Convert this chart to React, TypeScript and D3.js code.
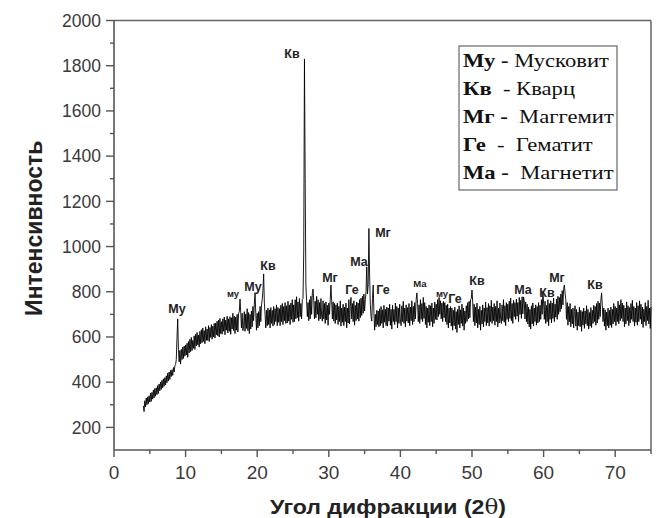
import React from 'react';
import * as d3 from 'd3';

// XRD pattern, 2θ from 4.1° to 75.0° in 0.1° steps (one row = one degree)
const ANGLE_START = 4.1;
const ANGLE_STEP = 0.1;
const intensity: number[] = [
    295, 270, 318, 290, 330, 300, 335, 305, 340, 312,
    352, 315, 355, 325, 365, 330, 372, 338, 375, 345,
    385, 350, 392, 362, 400, 368, 408, 375, 415, 382,
    420, 388, 428, 398, 440, 405, 445, 412, 452, 425,
    455, 430, 465, 445, 472, 478, 500, 600, 680, 545,
    490, 540, 480, 545, 500, 555, 505, 560, 515, 565,
    520, 572, 510, 580, 530, 590, 535, 598, 540, 585,
    550, 605, 545, 612, 560, 620, 565, 608, 555, 625,
    570, 632, 575, 640, 580, 628, 570, 645, 585, 635,
    585, 650, 580, 642, 598, 655, 590, 648, 600, 660,
    595, 662, 610, 670, 605, 675, 600, 682, 615, 668,
    612, 680, 625, 688, 610, 675, 630, 692, 618, 680,
    625, 690, 612, 685, 635, 705, 628, 692, 615, 688,
    630, 700, 622, 705, 712, 768, 710, 640, 705, 628,
    650, 712, 625, 702, 638, 725, 628, 708, 615, 700,
    635, 715, 645, 735, 672, 745, 796, 705, 630, 705,
    640, 712, 650, 735, 668, 742, 765, 805, 879, 750,
    700, 640, 718, 650, 728, 655, 720, 640, 730, 660,
    718, 648, 735, 655, 725, 668, 742, 650, 730, 665,
    725, 650, 740, 668, 748, 655, 735, 672, 752, 660,
    738, 662, 758, 670, 742, 655, 750, 678, 765, 665,
    742, 668, 765, 680, 778, 685, 755, 670, 770, 690,
    748, 680, 765, 770, 980, 1830, 1300, 830, 760, 690,
    752, 672, 765, 680, 780, 700, 795, 812, 760, 680,
    758, 685, 780, 700, 765, 672, 752, 680, 770, 692,
    670, 760, 680, 748, 660, 755, 675, 740, 652, 750,
    700, 765, 830, 760, 680, 755, 670, 748, 660, 742,
    675, 750, 655, 735, 668, 760, 648, 728, 665, 745,
    650, 732, 668, 750, 640, 728, 662, 765, 658, 735,
    775, 680, 748, 668, 760, 652, 740, 672, 755, 680,
    750, 670, 765, 685, 772, 695, 780, 705, 790, 715,
    765, 800, 910, 790, 830, 1080, 870, 745, 690, 670,
    770, 830, 710, 630, 700, 645, 718, 655, 715, 645,
    725, 650, 735, 660, 720, 640, 740, 665, 722, 650,
    732, 648, 728, 670, 745, 652, 722, 635, 740, 668,
    722, 655, 750, 668, 735, 640, 728, 660, 745, 675,
    650, 738, 668, 758, 660, 728, 645, 742, 670, 730,
    662, 748, 650, 732, 672, 760, 655, 735, 668, 752,
    680, 765, 795, 748, 668, 742, 660, 765, 678, 748,
    668, 775, 682, 752, 655, 735, 640, 728, 665, 742,
    650, 738, 668, 750, 645, 728, 660, 755, 678, 745,
    675, 765, 690, 775, 700, 760, 680, 750, 668, 758,
    685, 752, 668, 740, 655, 745, 640, 728, 662, 735,
    648, 728, 630, 718, 650, 732, 635, 712, 620, 722,
    655, 738, 640, 720, 660, 745, 648, 728, 630, 715,
    660, 738, 668, 752, 680, 758, 685, 765, 770, 808,
    755, 668, 745, 650, 732, 662, 750, 640, 722, 655,
    735, 630, 718, 658, 742, 645, 728, 668, 755, 650,
    730, 662, 748, 648, 738, 668, 762, 660, 732, 672,
    748, 652, 735, 668, 760, 645, 728, 662, 750, 678,
    660, 742, 672, 765, 665, 738, 650, 752, 678, 745,
    668, 758, 682, 772, 672, 748, 660, 762, 690, 752,
    678, 768, 692, 752, 668, 775, 700, 762, 682, 778,
    702, 777, 760, 680, 755, 668, 745, 658, 732, 645,
    722, 635, 738, 658, 750, 648, 728, 668, 742, 652,
    735, 662, 752, 668, 740, 678, 765, 700, 803, 750,
    678, 758, 660, 740, 668, 765, 650, 748, 678, 760,
    662, 750, 682, 772, 668, 745, 688, 768, 678, 780,
    700, 775, 712, 790, 725, 805, 742, 815, 830, 795,
    765, 678, 752, 652, 735, 668, 748, 645, 722, 658,
    728, 640, 712, 738, 648, 722, 630, 710, 650, 732,
    645, 718, 625, 712, 652, 728, 638, 715, 658, 738,
    650, 722, 635, 708, 648, 730, 642, 718, 660, 740,
    668, 735, 652, 748, 662, 758, 678, 750, 690, 765,
    795, 740, 668, 728, 648, 720, 630, 710, 650, 728,
    640, 718, 652, 732, 642, 722, 658, 748, 668, 735,
    650, 728, 668, 758, 658, 742, 672, 765, 682, 750,
    668, 740, 645, 728, 658, 755, 672, 738, 650, 730,
    662, 748, 678, 762, 668, 735, 648, 728, 665, 752,
    652, 738, 668, 760, 678, 745, 658, 732, 642, 722,
    668, 752, 650, 735, 672, 762, 658, 728, 638, 732,
];

// peak labels: text, label position (2θ, intensity), small = reduced font
const peakText = ['Кв', 'Му', 'му', 'Му', 'Кв', 'Мг', 'Ге', 'Ма', 'Мг', 'Ге', 'Ма', 'му', 'Ге', 'Кв', 'Ма', 'Кв', 'Мг', 'Кв'];
const peakAngle = [24.86, 8.8, 16.62, 19.41, 21.51, 30.17, 33.24, 34.22, 37.57, 37.57, 42.74, 45.81, 47.63, 50.7, 57.12, 60.47, 61.87, 67.18];
const peakLevel = [1856, 724, 790, 825, 918, 861, 812, 932, 1064, 808, 834, 790, 772, 852, 812, 795, 865, 834];
const peakSmall = [false, false, true, false, false, false, false, false, false, false, true, true, false, false, false, false, false, false];

const legendAbbr = ['Му -', 'Кв', 'Мг -', 'Ге', 'Ма -'];
const legendName = [' Мусковит', '  - Кварц', '  Маггемит', '  -  Гематит', '  Магнетит'];

const xMajor = [0, 10, 20, 30, 40, 50, 60, 70];
const xMinor = [5, 15, 25, 35, 45, 55, 65, 75];
const yMajor = [200, 400, 600, 800, 1000, 1200, 1400, 1600, 1800, 2000];
const yMinor = [300, 500, 700, 900, 1100, 1300, 1500, 1700, 1900];

const W = 657;
const H = 518;
const axisColor = '#555';
const textColor = '#3a3a3a';

export default function App() {
    const x = d3.scaleLinear().domain([0, 75]).range([114, 651]);
    const y = d3.scaleLinear().domain([100, 2000]).range([450, 20.5]);

    const pts: [number, number][] = intensity.map((v, i) => [ANGLE_START + i * ANGLE_STEP, v]);
    const line = d3.line<[number, number]>()
        .x(d => x(d[0]))
        .y(d => y(d[1]));

    const [x0, x1] = x.range();
    const [y0, y1] = y.range();

    return (
        <svg width={W} height={H} style={{position: 'absolute', left: 0, top: 0, background: '#fff'}}
             fontFamily="'Liberation Sans', Arial, sans-serif">
            {/* frame */}
            <line x1={x0} x2={x1} y1={y1} y2={y1} stroke="#666" strokeWidth={1.5}/>
            <line x1={x1} x2={x1} y1={y1} y2={y0} stroke="#666" strokeWidth={1.5}/>

            {/* data */}
            <path d={line(pts)!} fill="none" stroke="#000" strokeWidth={0.9} strokeLinejoin="round"/>

            {/* axes */}
            <line x1={x0} x2={x0} y1={y1} y2={y0} stroke={axisColor} strokeWidth={1.6}/>
            <line x1={x0} x2={x1} y1={y0} y2={y0} stroke={axisColor} strokeWidth={1.6}/>

            {yMajor.map(t => (
                <g key={'ym' + t}>
                    <line x1={x0 - 8} x2={x0} y1={y(t)} y2={y(t)} stroke={axisColor} strokeWidth={1.4}/>
                    <text x={x0 - 13} y={y(t)} dy="0.36em" textAnchor="end" fontSize={17.5} fill={textColor}>{t}</text>
                </g>
            ))}
            {yMinor.map(t => (
                <line key={'yn' + t} x1={x0 - 4} x2={x0} y1={y(t)} y2={y(t)} stroke={axisColor} strokeWidth={1.4}/>
            ))}
            {xMajor.map(t => (
                <g key={'xm' + t}>
                    <line x1={x(t)} x2={x(t)} y1={y0} y2={y0 + 7} stroke={axisColor} strokeWidth={1.4}/>
                    <text x={x(t)} y={479} textAnchor="middle" fontSize={19} fill={textColor}>{t}</text>
                </g>
            ))}
            {xMinor.map(t => (
                <line key={'xn' + t} x1={x(t)} x2={x(t)} y1={y0} y2={y0 + 4} stroke={axisColor} strokeWidth={1.4}/>
            ))}

            {/* axis titles */}
            <text transform={`translate(42, ${(y0 + y1) / 2 - 7}) rotate(-90)`} textAnchor="middle"
                  fontSize={23} fontWeight="bold" fill="#222">Интенсивность</text>
            <text transform="translate(388, 514) scale(1.1, 1)" textAnchor="middle" fontSize={21}
                  fontWeight="bold" fill="#222">
                Угол дифракции (2<tspan fontFamily="'DejaVu Serif', serif" fontWeight="normal">θ</tspan>)
            </text>

            {/* peak labels */}
            {peakText.map((t, i) => (
                <text key={'p' + i} x={x(peakAngle[i])} y={y(peakLevel[i])} dy="0.36em" textAnchor="middle"
                      fontSize={peakSmall[i] ? 9.5 : 12.5} fontWeight="bold" fill="#222">{t}</text>
            ))}

            {/* legend */}
            <rect x={459} y={46} width={158} height={144} fill="#fff" stroke="#666" strokeWidth={1.2}/>
            {legendAbbr.map((a, i) => (
                <text key={'l' + i} transform={`translate(463, ${67 + i * 28}) scale(1.16, 1)`}
                      fontFamily="'Liberation Serif', 'Times New Roman', serif" fontSize={19.5} fill="#111"
                      style={{whiteSpace: 'pre'}}>
                    <tspan fontWeight="bold">{a}</tspan>
                    <tspan>{legendName[i]}</tspan>
                </text>
            ))}
        </svg>
    );
}
